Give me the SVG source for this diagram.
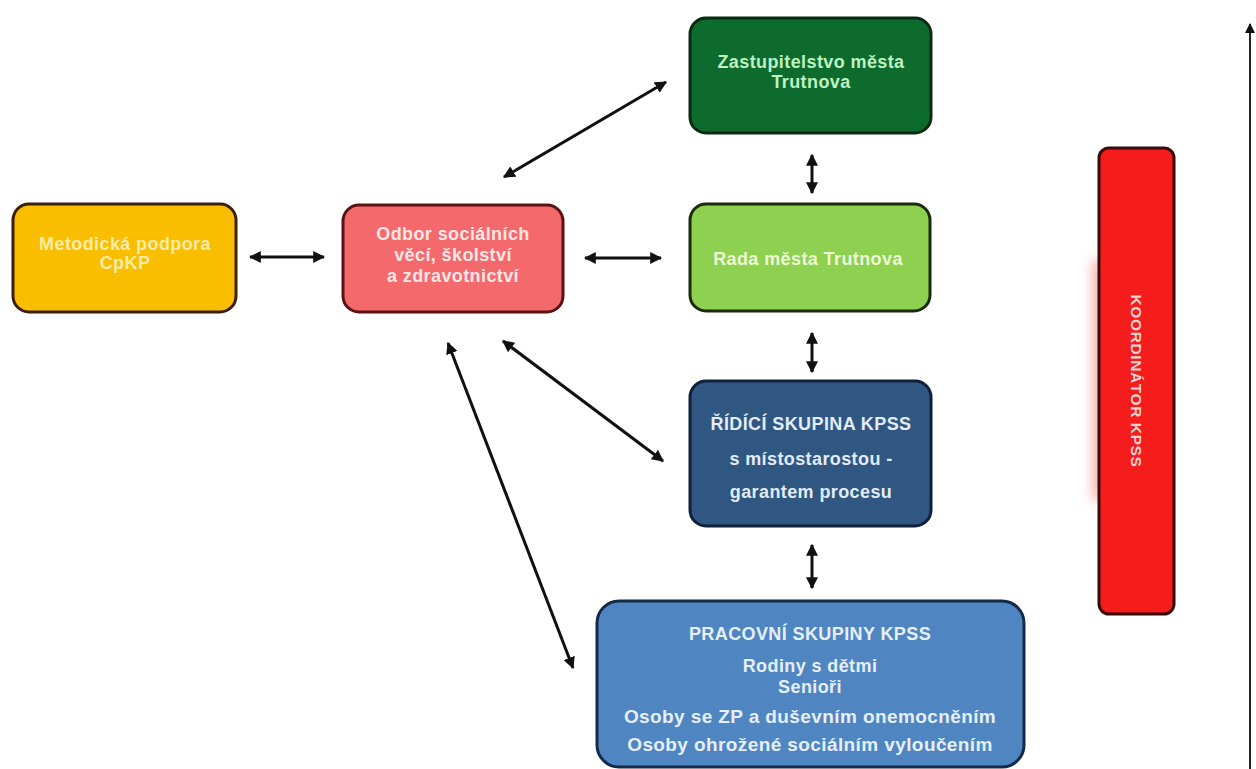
<svg xmlns="http://www.w3.org/2000/svg" width="1256" height="769" viewBox="0 0 1256 769">
<defs>
<marker id="ah" viewBox="0 0 10 10" refX="9" refY="5" markerWidth="4" markerHeight="4" orient="auto-start-reverse" markerUnits="strokeWidth">
<path d="M0,0 L10,5 L0,10 z" fill="#111"/>
</marker>
<marker id="ah2" viewBox="0 0 10 10" refX="9" refY="5" markerWidth="5" markerHeight="5" orient="auto-start-reverse" markerUnits="strokeWidth">
<path d="M0,0 L10,5 L0,10 z" fill="#111"/>
</marker>
<filter id="glow" x="-50%" y="-10%" width="200%" height="120%">
<feGaussianBlur stdDeviation="6"/>
</filter>
</defs>
<style>
.box{stroke-width:3}
.t{font-family:"Liberation Sans",Arial,sans-serif;font-weight:bold;text-anchor:middle;font-size:18px;letter-spacing:0.4px}
.c{stroke:#111;stroke-width:3;fill:none;marker-start:url(#ah);marker-end:url(#ah)}
</style>
<rect width="1256" height="769" fill="#ffffff"/>
<g id="connectors">
<line class="c" x1="250" y1="257" x2="324" y2="257"/>
<line class="c" x1="585" y1="258" x2="661" y2="258"/>
<line class="c" x1="504" y1="177" x2="666" y2="82"/>
<line class="c" x1="812" y1="155" x2="812" y2="193"/>
<line class="c" x1="812" y1="333" x2="812" y2="372"/>
<line class="c" x1="503" y1="341" x2="663" y2="461"/>
<line class="c" x1="448" y1="343" x2="573" y2="668"/>
<line class="c" x1="812" y1="545" x2="812" y2="588"/>
<line x1="1250" y1="24" x2="1250" y2="769" stroke="#222" stroke-width="2" marker-start="url(#ah2)"/>
</g>
<g id="metodicka">
<rect class="box" x="13" y="204" width="223" height="108" rx="16" fill="#F9BE00" stroke="#3a1f0a"/>
<text class="t" x="125" y="250" fill="#F9EBA8">Metodická podpora</text>
<text class="t" x="125" y="269" fill="#F9EBA8">CpKP</text>
</g>
<g id="odbor">
<rect class="box" x="343" y="205" width="220" height="107" rx="16" fill="#F4696C" stroke="#5a1212"/>
<text class="t" x="453" y="240" fill="#FFE6E6">Odbor sociálních</text>
<text class="t" x="453" y="261" fill="#FFE6E6">věcí, školství</text>
<text class="t" x="453" y="282" fill="#FFE6E6">a zdravotnictví</text>
</g>
<g id="zastupitelstvo">
<rect class="box" x="690" y="18" width="241" height="115" rx="16" fill="#0E6B2E" stroke="#0a2a14"/>
<text class="t" x="811" y="68" fill="#BDF2C2">Zastupitelstvo města</text>
<text class="t" x="811" y="88" fill="#BDF2C2">Trutnova</text>
</g>
<g id="rada">
<rect class="box" x="690" y="204" width="240" height="107" rx="16" fill="#8ED04F" stroke="#1a2a0a"/>
<text class="t" x="808" y="265" fill="#EEF9D8">Rada města Trutnova</text>
</g>
<g id="ridici">
<rect class="box" x="690" y="381" width="241" height="145" rx="16" fill="#2F5782" stroke="#10203a"/>
<text class="t" x="811" y="430" fill="#E2EBF7">ŘÍDÍCÍ SKUPINA KPSS</text>
<text class="t" x="811" y="465" fill="#E2EBF7">s místostarostou -</text>
<text class="t" x="811" y="498" fill="#E2EBF7">garantem procesu</text>
</g>
<g id="pracovni">
<rect class="box" x="597" y="601" width="427" height="166" rx="22" fill="#4F86C1" stroke="#142a48"/>
<text class="t" x="810" y="640" fill="#E6EFF9">PRACOVNÍ SKUPINY KPSS</text>
<text class="t" x="810" y="672" fill="#E6EFF9">Rodiny s dětmi</text>
<text class="t" x="810" y="693" fill="#E6EFF9">Senioři</text>
<text class="t" x="810" y="723" fill="#E6EFF9" style="font-size:19px">Osoby se ZP a duševním onemocněním</text>
<text class="t" x="810" y="751" fill="#E6EFF9" style="font-size:19px">Osoby ohrožené sociálním vyloučením</text>
</g>
<g id="koordinator">
<rect x="1092" y="260" width="20" height="240" fill="#F52A2A" opacity="0.35" filter="url(#glow)"/>
<rect class="box" x="1099" y="148" width="75" height="466" rx="10" fill="#F51C1C" stroke="#3a0a0a"/>
<text class="t" transform="translate(1136,381) rotate(90)" x="0" y="5" style="font-size:15.5px;letter-spacing:0.6px" fill="#F5D2D2">KOORDINÁTOR KPSS</text>
</g>
</svg>
